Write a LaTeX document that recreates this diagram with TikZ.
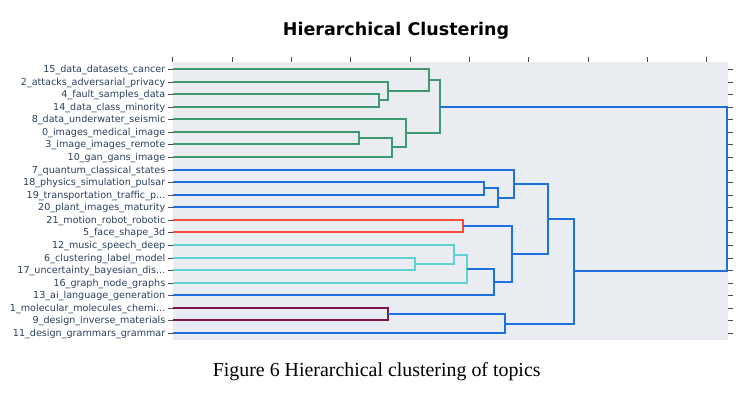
\documentclass[tikz,border=0pt]{standalone}
\usepackage{fontspec}
\setmainfont{Liberation Serif}
\newfontfamily\labfont{DejaVu Sans}
\usetikzlibrary{calc}
\definecolor{cgreen}{RGB}{61,153,112}
\definecolor{cblue}{RGB}{30,112,220}
\definecolor{ccyan}{RGB}{95,210,212}
\definecolor{cred}{RGB}{255,75,62}
\definecolor{cpurple}{RGB}{133,20,75}
\definecolor{plotbg}{RGB}{233,237,242}
\definecolor{labcol}{RGB}{42,63,95}
\newcommand\tdots{...}
\newcommand\dlink[5]{%
  \coordinate (#2x) at (#3,0);
  \draw[dline,#1] (#4) -- (#4 -| #2x) -- (#5 -| #2x) -- (#5);
  \coordinate (#2) at ($(#4 -| #2x)!0.5!(#5 -| #2x)$);
}
\begin{document}
\begin{tikzpicture}[x=1pt,y=-1pt,
  dline/.style={line width=2pt,line join=miter},
  lab/.style={font=\labfont\fontsize{9.6}{10}\selectfont,text=labcol,anchor=base east,inner sep=0pt},
  tickm/.style={line width=0.9pt,draw=black!70}]
\useasboundingbox (0,0) rectangle (751,403);
\fill[plotbg] (172.7,61.7) rectangle (728,340);
% title
\node[font=\labfont\bfseries\fontsize{17.5}{20}\selectfont,anchor=base,inner sep=0pt] (title) at (396,35.7) {Hierarchical Clustering};
% top ticks
\foreach \i in {0,1,2,3,4,5,6,7,8,9} {
  \draw[tickm] ({172.9+59.3*\i},57.5) -- ({172.9+59.3*\i},61.7);
}
% leaves
\foreach \i/\t in {0/15\_data\_datasets\_cancer,1/2\_attacks\_adversarial\_privacy,2/4\_fault\_samples\_data,3/14\_data\_class\_minority,4/8\_data\_underwater\_seismic,5/0\_images\_medical\_image,6/3\_image\_images\_remote,7/10\_gan\_gans\_image,8/7\_quantum\_classical\_states,9/18\_physics\_simulation\_pulsar,10/19\_transportation\_traffic\_p\tdots,11/20\_plant\_images\_maturity,12/21\_motion\_robot\_robotic,13/5\_face\_shape\_3d,14/12\_music\_speech\_deep,15/6\_clustering\_label\_model,16/17\_uncertainty\_bayesian\_dis\tdots,17/16\_graph\_node\_graphs,18/13\_ai\_language\_generation,19/1\_molecular\_molecules\_chemi\tdots,20/9\_design\_inverse\_materials,21/11\_design\_grammars\_grammar} {
  \pgfmathsetmacro\yy{round(69+12.57*\i)}
  \coordinate (l\i) at (172.9,\yy);
  \node[lab] (t\i) at (165.5,\yy+3.4) {\t};
  \draw[tickm] (167.5,\yy) -- (l\i);
  \draw[tickm] (728.3,\yy) -- (732.5,\yy);
}
% green cluster
\dlink{cgreen}{g1}{379}{l2}{l3}
\dlink{cgreen}{g2}{388.3}{l1}{g1}
\dlink{cgreen}{g3}{429.3}{l0}{g2}
\dlink{cgreen}{g4}{359.3}{l5}{l6}
\dlink{cgreen}{g5}{391.7}{g4}{l7}
\dlink{cgreen}{g6}{406}{l4}{g5}
\dlink{cgreen}{g7}{440}{g3}{g6}
% blue cluster
\dlink{cblue}{b1}{484.3}{l9}{l10}
\dlink{cblue}{b2}{497.7}{b1}{l11}
\dlink{cblue}{b3}{514.3}{l8}{b2}
\dlink{cred}{r1}{463.3}{l12}{l13}
\dlink{ccyan}{c1}{415.3}{l15}{l16}
\dlink{ccyan}{c2}{453.7}{l14}{c1}
\dlink{ccyan}{c3}{467.3}{c2}{l17}
\dlink{cblue}{b4}{494}{c3}{l18}
\dlink{cblue}{b5}{512.3}{r1}{b4}
\dlink{cblue}{b6}{547.7}{b3}{b5}
\dlink{cpurple}{p1}{387.7}{l19}{l20}
\dlink{cblue}{b7}{505}{p1}{l21}
\dlink{cblue}{b8}{573.7}{b6}{b7}
\dlink{cblue}{root}{727.3}{g7}{b8}
% caption
\node[font=\fontsize{19.9}{22}\selectfont,anchor=base,inner sep=0pt] (cap) at (376.7,376) {Figure 6 Hierarchical clustering of topics};
\end{tikzpicture}
\end{document}
